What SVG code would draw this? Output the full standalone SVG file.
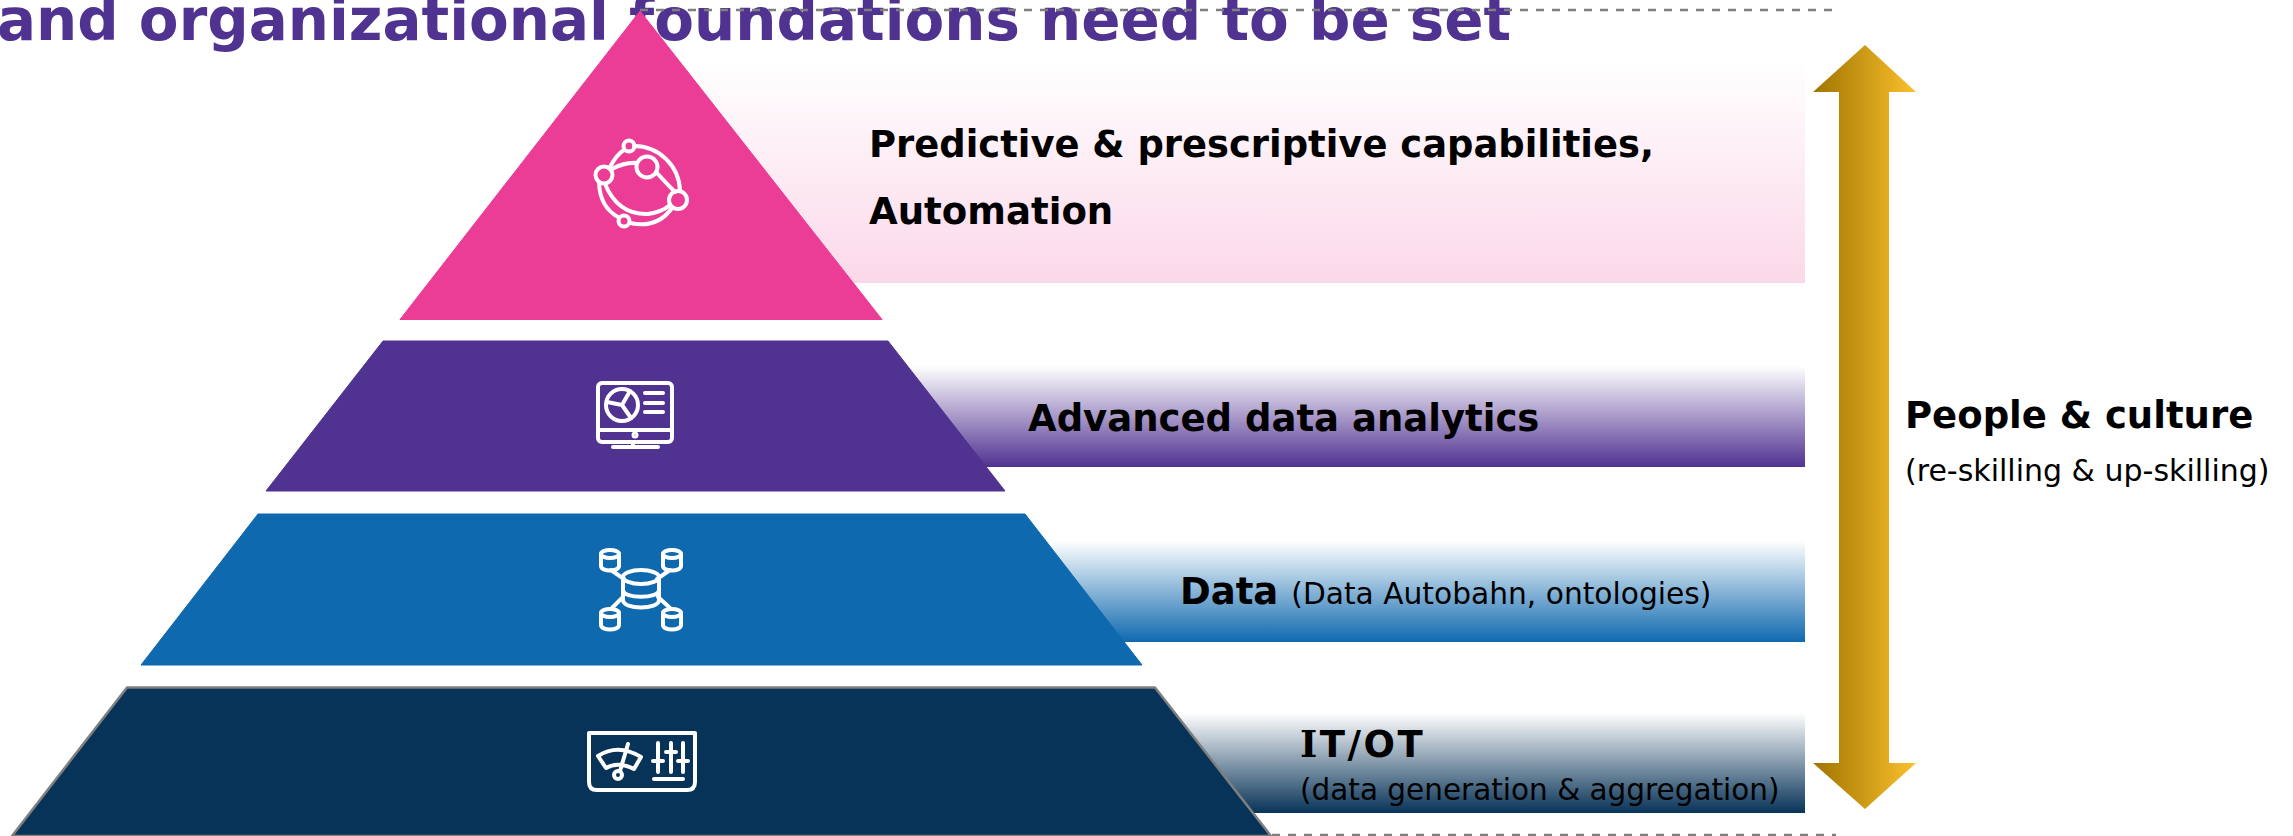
<svg xmlns="http://www.w3.org/2000/svg" width="2293" height="836" viewBox="0 0 2293 836">
<style>
text{font-family:"DejaVu Sans",Verdana,sans-serif;fill:#000}
.b{font-weight:700}
.l{font-size:37px;font-weight:700}
.i{fill:none;stroke:#fff;stroke-width:4;stroke-linecap:round;stroke-linejoin:round}
.d{stroke:#7f7f7f;stroke-width:2.5;stroke-dasharray:8 8;fill:none}
</style>
<defs>
<linearGradient id="gp" x1="0" y1="0" x2="0" y2="1"><stop offset="0" stop-color="#fff"/><stop offset="1" stop-color="#fbd8e9"/></linearGradient>
<linearGradient id="gv" x1="0" y1="0" x2="0" y2="1"><stop offset="0" stop-color="#fff"/><stop offset="1" stop-color="#503291"/></linearGradient>
<linearGradient id="gb" x1="0" y1="0" x2="0" y2="1"><stop offset="0" stop-color="#fff"/><stop offset="1" stop-color="#0f69af"/></linearGradient>
<linearGradient id="gd" x1="0" y1="0" x2="0" y2="1"><stop offset="0" stop-color="#fff"/><stop offset="1" stop-color="#083358"/></linearGradient>
<linearGradient id="ga" x1="0" y1="0" x2="1" y2="0"><stop offset="0" stop-color="#a07400"/><stop offset="1" stop-color="#fbc02d"/></linearGradient>
</defs>
<text id="title" class="b" x="-3" y="40" font-size="57.9" style="fill:#503291">and organizational foundations need to be set</text>
<g id="connectors">
<path class="d" d="M640 10H1836"/>
<path class="d" d="M1272 835H1836"/>
</g>
<g id="level-4">
<rect x="660" y="60" width="1145" height="223" fill="url(#gp)"/>
<path d="M640 11L882 319.500H400Z" fill="#eb3c96" stroke="#eb3c96" stroke-width="1" stroke-linejoin="round"/>
<g class="i">
<circle cx="629" cy="146" r="5.500"/><circle cx="604" cy="175" r="8.500"/><circle cx="647" cy="167" r="10.500"/><circle cx="678" cy="200" r="9"/><circle cx="624" cy="221" r="5.500"/>
<path d="M612 169Q625 162 637 163M656 172Q666 183 675 192M634 146A46 46 0 0 1 680 191M599 183Q600 207 618 217M605 184Q618 215 648 214Q662 212 670 205M630 223Q657 229 672 208M610 167Q617 154 624 150"/>
</g>
<text class="l" x="869" y="157" style="font-size:36.900px">Predictive &amp; prescriptive capabilities,</text>
<text class="l" x="869" y="224" style="font-size:37.100px">Automation</text>
</g>
<g id="level-3">
<rect x="900" y="366" width="905" height="101" fill="url(#gv)"/>
<path d="M383 341H888L1005 491H266Z" fill="#503291" stroke="#503291" stroke-width="1" stroke-linejoin="round"/>
<g class="i">
<rect x="598" y="383" width="74" height="59" rx="4"/>
<path d="M598 430H672M633 442V447M613 447H658"/>
<circle cx="622" cy="405" r="16"/>
<path d="M622 405L630 391M622 405L607 402M622 405L631 418M645 393H663M645 403H663M645 412H663"/>
<circle cx="635" cy="435" r="1.500"/>
</g>
<text class="l" x="1028" y="431">Advanced data analytics</text>
</g>
<g id="level-2">
<rect x="1030" y="541" width="775" height="101" fill="url(#gb)"/>
<path d="M258 514H1025L1142 665H141Z" fill="#0f69af" stroke="#0f69af" stroke-width="1" stroke-linejoin="round"/>
<g class="i">
<ellipse cx="641" cy="577" rx="18" ry="7"/>
<path d="M623 577V600C623 610 659 610 659 600V577M623 590C623 599 659 599 659 590"/>
<ellipse cx="610" cy="554" rx="9" ry="4"/><path d="M601 554V566C601 572 619 572 619 566V554"/>
<ellipse cx="672" cy="554" rx="9" ry="4"/><path d="M663 554V566C663 572 681 572 681 566V554"/>
<ellipse cx="610" cy="613" rx="9" ry="4"/><path d="M601 613V625C601 631 619 631 619 625V613"/>
<ellipse cx="672" cy="613" rx="9" ry="4"/><path d="M663 613V625C663 631 681 631 681 625V613"/>
<path d="M611 570L624 579M670 570L657 579M612 608L623 597M670 608L658 597"/>
</g>
<text x="1180" y="604"><tspan class="l">Data</tspan><tspan font-size="29.700" dx="13">(Data Autobahn, ontologies)</tspan></text>
</g>
<g id="level-1">
<rect x="1150" y="713" width="655" height="100" fill="url(#gd)"/>
<path d="M127 687.500H1155L1271 836H12Z" fill="#083358" stroke="#7f7f7f" stroke-width="2.500" stroke-linejoin="round"/>
<g class="i">
<path d="M589 733H695V782Q695 790 687 790H597Q589 790 589 782Z"/>
<path d="M598 756Q618 743 641 757L634 769Q618 761 606 768ZM628 744L620 771"/>
<circle cx="618" cy="775" r="4"/>
<path d="M658 743V772M671 743V772M683 743V772M653 761H663M666 752H676M678 761H688M654 779H683"/>
</g>
<text class="l" x="1300" y="757" letter-spacing="2.500"><tspan style="font-family:'DejaVu Serif',serif">I</tspan>T/OT</text>
<text font-size="29.500" x="1300" y="800">(data generation &amp; aggregation)</text>
</g>
<g id="people-culture">
<path d="M1865 45L1916 92H1889V763H1916L1865 809L1813 763H1839V92H1813Z" fill="url(#ga)"/>
<text class="l" x="1905" y="428">People &amp; culture</text>
<text font-size="30" x="1905" y="481">(re-skilling &amp; up-skilling)</text>
</g>
</svg>
